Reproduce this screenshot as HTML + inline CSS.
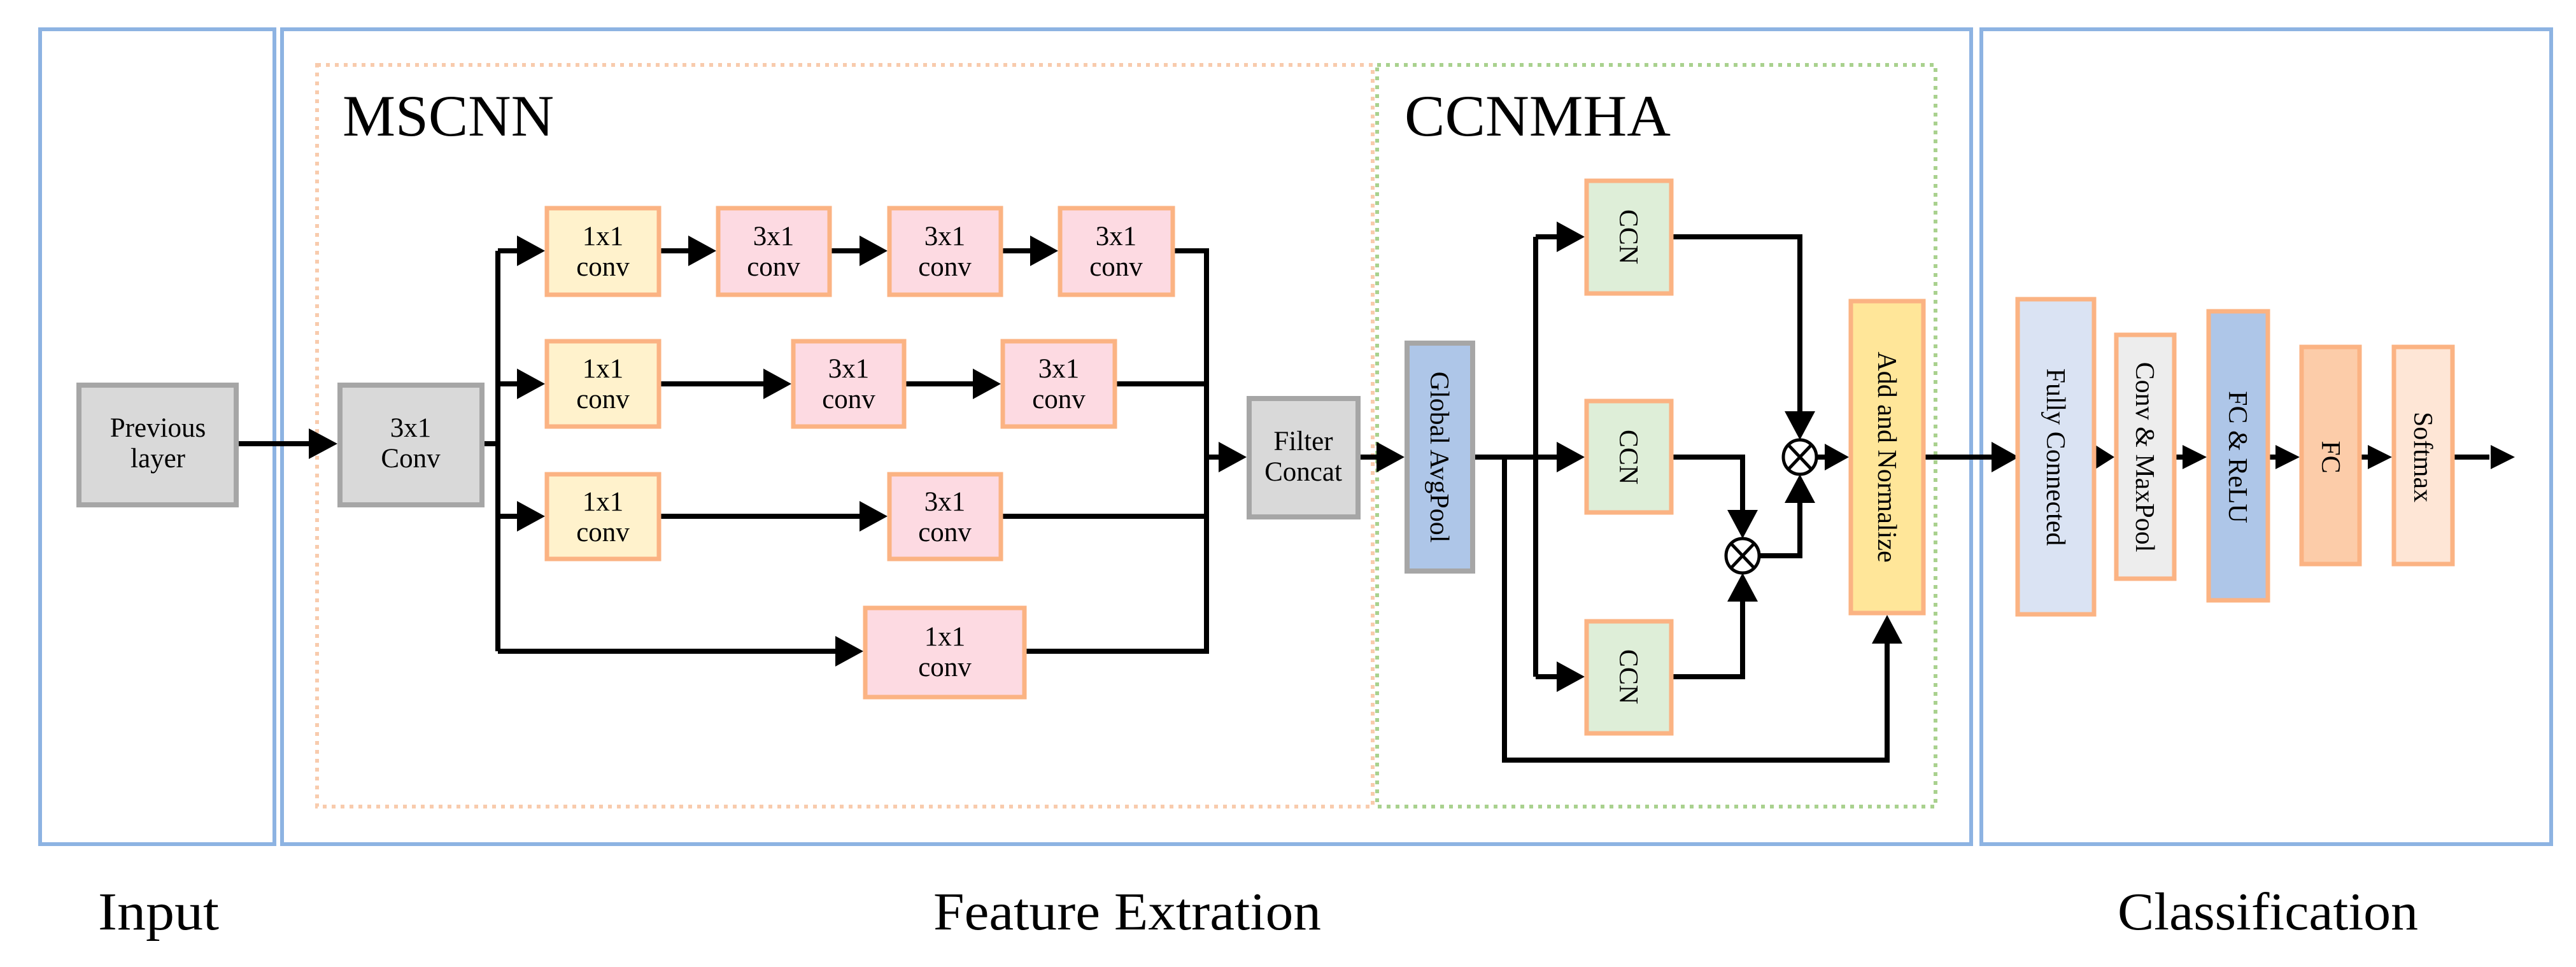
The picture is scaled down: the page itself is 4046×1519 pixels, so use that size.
<!DOCTYPE html>
<html><head><meta charset="utf-8"><style>html,body{margin:0;padding:0;background:#fff}svg{display:block}</style></head>
<body>
<svg width="4046" height="1519" viewBox="0 0 4046 1519" xmlns="http://www.w3.org/2000/svg" font-family="Liberation Serif, serif">
<rect width="4046" height="1519" fill="#fff"/>
<g fill="none" stroke="#8db3e2" stroke-width="6">
<rect x="63" y="46" width="368" height="1280"/>
<rect x="443" y="46" width="2653" height="1280"/>
<rect x="3112" y="46" width="895" height="1280"/>
</g>
<rect x="498" y="102" width="1658" height="1165" fill="none" stroke="#f8cbad" stroke-width="6" stroke-dasharray="6,8"/>
<rect x="2163" y="102" width="877" height="1165" fill="none" stroke="#a9d18e" stroke-width="6" stroke-dasharray="6,8"/>
<text x="538" y="213" font-size="92" textLength="332" lengthAdjust="spacingAndGlyphs">MSCNN</text>
<text x="2206" y="213" font-size="92" textLength="418" lengthAdjust="spacingAndGlyphs">CCNMHA</text>
<text x="154" y="1460" font-size="84" textLength="190" lengthAdjust="spacingAndGlyphs">Input</text>
<text x="1466" y="1460" font-size="84" textLength="609" lengthAdjust="spacingAndGlyphs">Feature Extration</text>
<text x="3326" y="1460" font-size="84" textLength="472" lengthAdjust="spacingAndGlyphs">Classification</text>

<g stroke="#000" stroke-width="8" fill="none">
<polyline points="375,697 488,697"/>
<polyline points="761,697 782,697"/>
<polyline points="782,394 782,1023"/>
<polyline points="782,394 815,394"/>
<polyline points="782,603 815,603"/>
<polyline points="782,811 815,811"/>
<polyline points="782,1023 1315,1023"/>
<polyline points="1038,394 1083,394"/>
<polyline points="1306,394 1352,394"/>
<polyline points="1575,394 1620,394"/>
<polyline points="1038,603 1200,603"/>
<polyline points="1423,603 1530,603"/>
<polyline points="1038,811 1352,811"/>
<polyline points="1845,394 1895,394 1895,1023 1612,1023"/>
<polyline points="1754,603 1895,603"/>
<polyline points="1575,811 1895,811"/>
<polyline points="1895,718 1916,718"/>
<polyline points="2137,718 2164,718"/>
<polyline points="2317,718 2412,718"/>
<polyline points="2412,372 2412,1063"/>
<polyline points="2412,372 2446,372"/>
<polyline points="2412,718 2446,718"/>
<polyline points="2412,1063 2446,1063"/>
<polyline points="2363,718 2363,1194 2964,1194 2964,1010"/>
<polyline points="2628,372 2827,372 2827,650"/>
<polyline points="2628,718 2737,718 2737,805"/>
<polyline points="2628,1063 2737,1063 2737,945"/>
<polyline points="2765,873 2827,873 2827,790"/>
<polyline points="2855,718 2870,718"/>
<polyline points="3024,718 3130,718"/>
<polyline points="3292,718 3300,718"/>
<polyline points="3418,718 3430,718"/>
<polyline points="3565,718 3575,718"/>
<polyline points="3709,718 3720,718"/>
<polyline points="3855,718 3910,718"/>
</g>
<g fill="#000">
<polygon points="530,697 485,673 485,721"/>
<polygon points="856,394 812,370 812,418"/>
<polygon points="856,603 812,579 812,627"/>
<polygon points="856,811 812,787 812,835"/>
<polygon points="1125,394 1081,370 1081,418"/>
<polygon points="1394,394 1350,370 1350,418"/>
<polygon points="1662,394 1618,370 1618,418"/>
<polygon points="1243,603 1199,579 1199,627"/>
<polygon points="1572,603 1528,579 1528,627"/>
<polygon points="1394,811 1350,787 1350,835"/>
<polygon points="1356,1023 1312,999 1312,1047"/>
<polygon points="1958,718 1914,694 1914,742"/>
<polygon points="2206,718 2162,694 2162,742"/>
<polygon points="2489,372 2445,348 2445,396"/>
<polygon points="2489,718 2445,694 2445,742"/>
<polygon points="2489,1063 2445,1039 2445,1087"/>
<polygon points="2827,691 2803,646 2851,646"/>
<polygon points="2827,745 2803,790 2851,790"/>
<polygon points="2737,846 2713,801 2761,801"/>
<polygon points="2737,900 2713,945 2761,945"/>
<polygon points="2904,718 2866,697 2866,739"/>
<polygon points="2964,966 2940,1011 2988,1011"/>
<polygon points="3171,718 3128,694 3128,742"/>
<polygon points="3321,718 3291,699 3291,737"/>
<polygon points="3466,718 3428,699 3428,737"/>
<polygon points="3612,718 3574,699 3574,737"/>
<polygon points="3757,718 3719,699 3719,737"/>
<polygon points="3950,718 3912,699 3912,737"/>
</g>
<g fill="#fff" stroke="#000" stroke-width="5">
<ellipse cx="2827" cy="718" rx="26" ry="27"/>
<ellipse cx="2737" cy="873" rx="26" ry="27"/>
</g>
<g stroke="#000" stroke-width="5">
<line x1="2809" y1="699" x2="2845" y2="737"/><line x1="2845" y1="699" x2="2809" y2="737"/>
<line x1="2719" y1="854" x2="2755" y2="892"/><line x1="2755" y1="854" x2="2719" y2="892"/>
</g>

<g fill="#d9d9d9" stroke="#a6a6a6" stroke-width="8">
<rect x="124" y="605" width="247" height="188"/>
<rect x="534" y="605" width="223" height="188"/>
<rect x="1962" y="626" width="171" height="186"/>
</g>
<rect x="2210" y="539" width="103" height="358" fill="#aec6e8" stroke="#a6a6a6" stroke-width="8"/>
<g stroke="#fbb383" stroke-width="7">
<g fill="#fff2cc">
<rect x="859" y="327" width="176" height="136"/>
<rect x="859" y="536" width="176" height="134"/>
<rect x="859" y="745" width="176" height="133"/>
</g>
<g fill="#fddae2">
<rect x="1128" y="327" width="175" height="136"/>
<rect x="1397" y="327" width="175" height="136"/>
<rect x="1665" y="327" width="177" height="136"/>
<rect x="1246" y="536" width="174" height="134"/>
<rect x="1575" y="536" width="176" height="134"/>
<rect x="1397" y="745" width="175" height="133"/>
<rect x="1359" y="955" width="250" height="140"/>
</g>
<g fill="#deeed8">
<rect x="2492" y="284" width="133" height="177"/>
<rect x="2492" y="630" width="133" height="175"/>
<rect x="2492" y="976" width="133" height="176"/>
</g>
<rect x="2907" y="473" width="114" height="490" fill="#ffe699"/>
<rect x="3169" y="470" width="120" height="495" fill="#dae3f3"/>
<rect x="3324" y="526" width="91" height="383" fill="#ededed"/>
<rect x="3469" y="489" width="93" height="454" fill="#aec6e8"/>
<rect x="3615" y="545" width="91" height="341" fill="#fccca9"/>
<rect x="3760" y="545" width="92" height="341" fill="#fee6d6"/>
</g>

<g font-size="43" text-anchor="middle" fill="#000">
<text x="248" y="686">Previous</text><text x="248" y="734">layer</text>
<text x="645" y="686">3x1</text><text x="645" y="734">Conv</text>
<text x="947" y="385">1x1</text><text x="947" y="433">conv</text>
<text x="1215" y="385">3x1</text><text x="1215" y="433">conv</text>
<text x="1484" y="385">3x1</text><text x="1484" y="433">conv</text>
<text x="1753" y="385">3x1</text><text x="1753" y="433">conv</text>
<text x="947" y="593">1x1</text><text x="947" y="641">conv</text>
<text x="1333" y="593">3x1</text><text x="1333" y="641">conv</text>
<text x="1663" y="593">3x1</text><text x="1663" y="641">conv</text>
<text x="947" y="802">1x1</text><text x="947" y="850">conv</text>
<text x="1484" y="802">3x1</text><text x="1484" y="850">conv</text>
<text x="1484" y="1014">1x1</text><text x="1484" y="1062">conv</text>
<text x="2047" y="707">Filter</text><text x="2047" y="755">Concat</text>
</g>
<g font-size="42" text-anchor="middle" fill="#000">
<text transform="translate(2247,718) rotate(90)">Global AvgPool</text>
<text transform="translate(2544,372) rotate(90)">CCN</text>
<text transform="translate(2544,718) rotate(90)">CCN</text>
<text transform="translate(2544,1063) rotate(90)">CCN</text>
<text transform="translate(2950,718) rotate(90)">Add and Normalize</text>
<text transform="translate(3215,718) rotate(90)">Fully Connected</text>
<text transform="translate(3355,718) rotate(90)">Conv &amp; MaxPool</text>
<text transform="translate(3501,718) rotate(90)">FC &amp; ReLU</text>
<text transform="translate(3647,718) rotate(90)">FC</text>
<text transform="translate(3792,718) rotate(90)">Softmax</text>
</g>
</svg>
</body></html>
